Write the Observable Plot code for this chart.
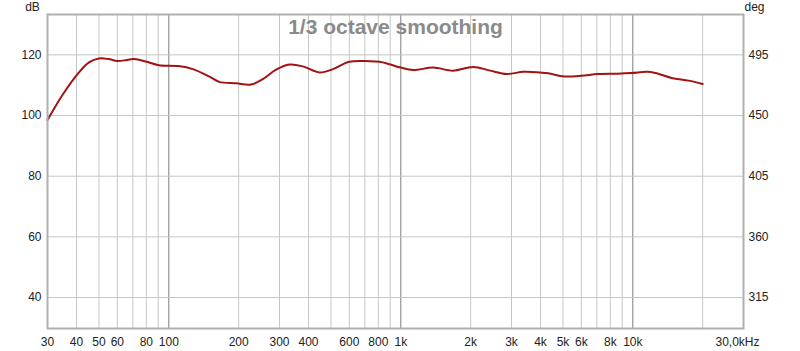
<!DOCTYPE html>
<html><head><meta charset="utf-8">
<script src="https://cdn.jsdelivr.net/npm/d3@7"></script>
<script src="https://cdn.jsdelivr.net/npm/@observablehq/plot@0.6"></script>
<style>html,body{margin:0;padding:0;background:#fff;font-family:"Liberation Sans",Arial,sans-serif}</style>
</head><body><div id="chart"></div>
<script>
const freqHz = [30, 34.7, 41, 45.3, 50, 55, 60, 66, 71, 79.5, 90.6, 110, 127, 150, 165, 195, 226, 254, 290, 331, 378, 447, 510, 600, 733, 811, 893, 1000, 1130, 1380, 1680, 2050, 2430, 2860, 3370, 3850, 4320, 5070, 6000, 7080, 8600, 9900, 11500, 12500, 14700, 17400, 20000];
const splDb = [98.5, 106.6, 114.2, 117.5, 118.8, 118.6, 118.0, 118.3, 118.6, 117.8, 116.6, 116.3, 115.3, 112.8, 111.1, 110.6, 110.2, 112.0, 115.1, 116.8, 116.2, 114.2, 115.3, 117.7, 117.9, 117.7, 116.9, 115.8, 115.0, 115.8, 114.8, 116.0, 114.8, 113.7, 114.4, 114.3, 113.9, 112.9, 113.1, 113.7, 113.8, 114.0, 114.4, 114.0, 112.4, 111.5, 110.4];
const xTicks = [30, 40, 50, 60, 80, 100, 200, 300, 400, 600, 800, 1000, 2000, 3000, 4000, 5000, 6000, 8000, 10000];
const xTickLabels = ["30", "40", "50", "60", "80", "100", "200", "300", "400", "600", "800", "1k", "2k", "3k", "4k", "5k", "6k", "8k", "10k"];
const xEndLabel = "30,0kHz";
const gridFreqs = [40, 50, 60, 70, 80, 90, 200, 300, 400, 500, 600, 700, 800, 900, 2000, 3000, 4000, 5000, 6000, 7000, 8000, 9000, 20000];
const decadeFreqs = [100, 1000, 10000];
const yTicks = [40, 60, 80, 100, 120];
const degTickLabels = ["315", "360", "405", "450", "495"];
const title = "1/3 octave smoothing";
const leftUnit = "dB";
const rightUnit = "deg";

const data = freqHz.map((f, i) => ({f, db: splDb[i]}));
const xTickData = xTicks.map((t, i) => ({f: t, label: xTickLabels[i]}));
const degLab = new Map(yTicks.map((t, i) => [t, degTickLabels[i]]));

const chart = Plot.plot({
  width: 800, height: 351,
  marginLeft: 47, marginRight: 57, marginTop: 14, marginBottom: 23,
  style: {fontFamily: "Liberation Sans, Arial, sans-serif", fontSize: "12px", color: "#222", background: "#fff"},
  x: {type: "log", domain: [30, 30000], axis: null},
  y: {domain: [29.8, 133.3], axis: null},
  marks: [
    Plot.ruleX(gridFreqs, {stroke: "#c6c6c6", strokeWidth: 1}),
    Plot.ruleX(decadeFreqs, {stroke: "#7c7c7c", strokeWidth: 1}),
    Plot.ruleY(yTicks, {stroke: "#c6c6c6", strokeWidth: 1}),
    Plot.line(data, {x: "f", y: "db", stroke: "#a31212", strokeWidth: 2, curve: "catmull-rom"}),
    Plot.frame({stroke: "#b0b0b0", strokeWidth: 2}),
    Plot.text(xTickData, {x: "f", text: "label", frameAnchor: "bottom", dy: 14, lineAnchor: "middle", textAnchor: "middle", fill: "#222", fontSize: 12}),
    Plot.text([xEndLabel], {frameAnchor: "bottom-right", dx: -6, dy: 14, lineAnchor: "middle", textAnchor: "middle", fill: "#222", fontSize: 12}),
    Plot.axisY(yTicks, {anchor: "left", tickSize: 0, tickPadding: 6, label: null, fill: "#222"}),
    Plot.axisY(yTicks, {anchor: "right", tickSize: 0, tickPadding: 5, tickFormat: d => degLab.get(d), label: null, fill: "#222"}),
    Plot.text([title], {frameAnchor: "top", dy: 13, lineAnchor: "middle", fontSize: 21, fontWeight: "bold", fill: "#8a8a8a"}),
    Plot.text([leftUnit], {frameAnchor: "top-left", dx: -15, dy: -7, textAnchor: "middle", lineAnchor: "middle", fill: "#222", fontSize: 12}),
    Plot.text([rightUnit], {frameAnchor: "top-right", dx: 11, dy: -7, textAnchor: "middle", lineAnchor: "middle", fill: "#222", fontSize: 12})
  ]
});
document.getElementById("chart").appendChild(chart);
</script>
</body></html>
